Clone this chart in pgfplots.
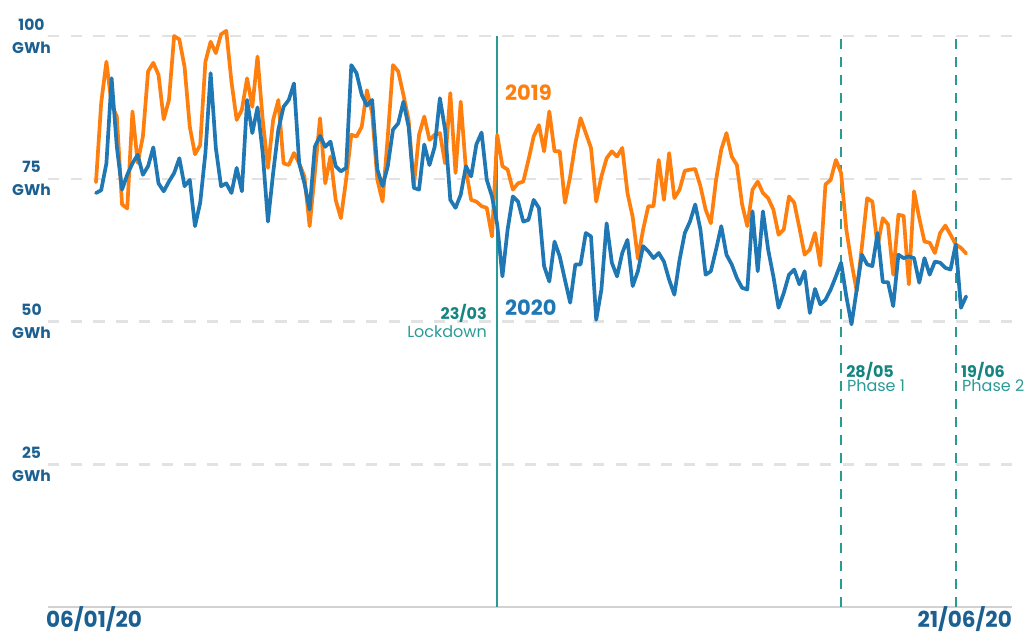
\documentclass[border=0pt]{standalone}
\usepackage{pgfplots}
\usepackage{pgfplotstable}
\pgfplotsset{compat=1.18}
\usepackage{fontspec}
\setmainfont{Poppins}
\definecolor{c19}{HTML}{FF7F0E}
\definecolor{c20}{HTML}{1F77B4}
\definecolor{tealline}{HTML}{2A9A94}
\definecolor{tealtxt}{HTML}{16857F}
\definecolor{tealtxtl}{HTML}{2A9A96}
\definecolor{lab}{HTML}{1B6090}
\definecolor{gridc}{HTML}{E2E2E2}
\definecolor{axc}{HTML}{D2D2D2}

\pgfplotstableread{
d o b
0 74.4 72.5
1 88.3 73.0
2 95.5 77.7
3 88.0 92.6
4 85.9 80.6
5 70.5 73.1
6 69.8 75.7
7 86.8 77.7
8 77.8 79.2
9 82.4 75.7
10 93.8 77.2
11 95.3 80.5
12 93.2 74.2
13 85.4 72.8
14 88.8 74.5
15 100.0 76.0
16 99.4 78.6
17 94.6 73.7
18 84.1 74.8
19 79.3 66.7
20 80.9 70.8
21 95.5 79.5
22 99.0 93.5
23 97.0 80.4
24 100.3 73.7
25 100.9 74.2
26 92.0 72.5
27 85.3 76.9
28 87.1 72.8
29 92.6 88.8
30 87.6 83.0
31 96.4 87.5
32 85.3 79.5
33 76.9 67.5
34 85.3 76.0
35 88.8 83.6
36 77.7 87.6
37 77.4 88.8
38 79.5 91.7
39 77.7 77.7
40 75.4 74.2
41 66.7 69.6
42 76.0 80.6
43 85.6 82.5
44 74.2 80.6
45 78.9 81.5
46 71.3 77.2
47 68.1 76.3
48 74.8 76.9
49 82.7 94.9
50 82.4 93.5
51 84.1 89.7
52 90.5 87.8
53 86.5 88.8
54 74.8 76.6
55 71.0 73.7
56 82.4 77.2
57 94.9 83.6
58 93.8 84.7
59 89.7 88.5
60 85.3 84.1
61 73.7 73.4
62 82.7 73.1
63 85.9 81.0
64 81.8 77.4
65 82.7 80.6
66 83.0 89.1
67 77.7 83.6
68 90.0 71.3
69 76.0 69.9
70 88.5 72.2
71 76.6 77.2
72 71.3 75.4
73 71.0 81.0
74 70.2 83.1
75 69.9 74.8
76 64.9 71.9
77 82.7 67.0
78 77.2 57.9
79 76.6 66.1
80 73.1 71.9
81 74.2 71.0
82 74.5 67.5
83 78.3 67.8
84 82.4 71.3
85 84.4 69.9
86 79.8 59.7
87 86.8 57.0
88 79.8 64.0
89 79.8 61.4
90 70.8 57.3
91 75.4 53.3
92 81.2 60.0
93 85.6 60.0
94 83.0 65.5
95 80.4 64.9
96 71.0 50.3
97 75.4 55.6
98 78.6 67.2
99 79.8 60.3
100 78.9 57.9
101 80.4 62.0
102 72.5 64.3
103 68.3 56.2
104 61.0 58.8
105 66.1 63.2
106 70.2 62.3
107 70.2 61.1
108 78.3 62.0
109 71.3 60.5
110 79.5 57.3
111 71.6 54.7
112 73.1 60.8
113 76.4 65.5
114 76.6 67.5
115 76.7 70.5
116 73.7 66.1
117 69.6 58.2
118 67.2 58.8
119 74.8 62.6
120 80.1 66.7
121 83.0 61.7
122 78.9 60.0
123 77.4 57.6
124 70.5 55.9
125 66.7 55.6
126 73.1 69.3
127 74.5 58.8
128 72.5 69.3
129 71.6 62.6
130 69.6 57.9
131 65.2 52.4
132 66.1 55.0
133 71.9 58.2
134 70.8 59.1
135 66.4 56.5
136 61.7 58.8
137 62.6 51.5
138 65.5 55.7
139 59.8 53.0
140 74.0 53.8
141 74.8 55.6
142 78.3 57.9
143 76.0 60.3
144 66.1 54.4
145 60.3 49.5
146 55.3 55.6
147 63.2 61.7
148 71.6 60.0
149 71.0 59.7
150 63.2 65.5
151 68.1 56.9
152 67.0 56.9
153 58.2 52.7
154 68.7 61.7
155 68.5 61.1
156 56.5 61.4
157 72.8 61.1
158 68.1 56.8
159 64.0 61.1
160 63.8 58.2
161 62.0 60.5
162 65.5 60.3
163 66.8 59.4
164 65.2 59.1
165 63.5 63.5
166 62.9 52.4
167 61.9 54.4
}\datatable

\begin{document}
\begin{tikzpicture}
\useasboundingbox (0,0) rectangle (1035pt,633pt);
\begin{axis}[
  at={(48pt,26pt)}, anchor=south west,
  scale only axis, width=964pt, height=600pt,
  xmin=-9.21, xmax=175.8, ymin=0, ymax=105.08,
  enlargelimits=false, clip=false,
  axis x line*=bottom, axis y line*=left,
  x axis line style={-, draw=axc, line width=2.5pt},
  y axis line style={draw=none},
  xtick=\empty,
  ytick={25,50,75,100},
  yticklabels={{25\\GWh},{50\\GWh},{75\\GWh},{100\\GWh}},
  yticklabel style={font=\bfseries\fontsize{15.5}{23}\selectfont, text=lab, align=center, inner sep=0pt, anchor=east, xshift=3pt},
  major tick length=0pt, ytick style={draw=none},
  ymajorgrids=true,
  grid style={draw=gridc, line width=2.5pt, dash pattern=on 11.5pt off 11.2pt},
]
\draw[tealline, line width=1.6pt] (axis cs:77,0) -- (axis cs:77,100);
\draw[tealline, line width=2pt, dash pattern=on 10pt off 8pt] (axis cs:143,0) -- (axis cs:143,100);
\draw[tealline, line width=2pt, dash pattern=on 10pt off 8pt] (axis cs:165,0) -- (axis cs:165,100);

\addplot[c19, line width=3.7pt, line join=round, line cap=round] table[x=d, y=o] {\datatable};
\addplot[c20, line width=3.7pt, line join=round, line cap=round] table[x=d, y=b] {\datatable};

\node[anchor=west, inner sep=0pt, text=c19, font=\bfseries\fontsize{21}{24}\selectfont] at (axis cs:78.5,90.0) {2019};
\node[anchor=west, inner sep=0pt, text=c20, font=\bfseries\fontsize{21}{24}\selectfont] at (axis cs:78.5,52.5) {2020};

\node[anchor=east, inner sep=0pt, text=tealtxt, font=\bfseries\fontsize{16}{18}\selectfont] at (axis cs:75.05,51.5) {23/03};
\node[anchor=east, inner sep=0pt, text=tealtxtl, font=\fontsize{16}{18}\selectfont] at (axis cs:75.05,48.3) {Lockdown};
\node[anchor=west, inner sep=0pt, text=tealtxt, font=\bfseries\fontsize{16}{18}\selectfont] at (axis cs:143.95,41.3) {28/05};
\node[anchor=west, inner sep=0pt, text=tealtxtl, font=\fontsize{16}{18}\selectfont] at (axis cs:144.1,38.7) {Phase 1};
\node[anchor=west, inner sep=0pt, text=tealtxt, font=\bfseries\fontsize{16}{18}\selectfont] at (axis cs:166.0,41.3) {19/06};
\node[anchor=west, inner sep=0pt, text=tealtxtl, font=\fontsize{16}{18}\selectfont] at (axis cs:166.2,38.7) {Phase 2};

\node[anchor=west, inner sep=0pt, text=lab, font=\bfseries\fontsize{22}{24}\selectfont] at (axis cs:-9.6,-2.05) {\scalebox{0.98}[1]{06/01/20}};
\node[anchor=east, inner sep=0pt, text=lab, font=\bfseries\fontsize{22}{24}\selectfont] at (axis cs:175.8,-2.05) {\scalebox{0.98}[1]{21/06/20}};
\end{axis}
\end{tikzpicture}
\end{document}
